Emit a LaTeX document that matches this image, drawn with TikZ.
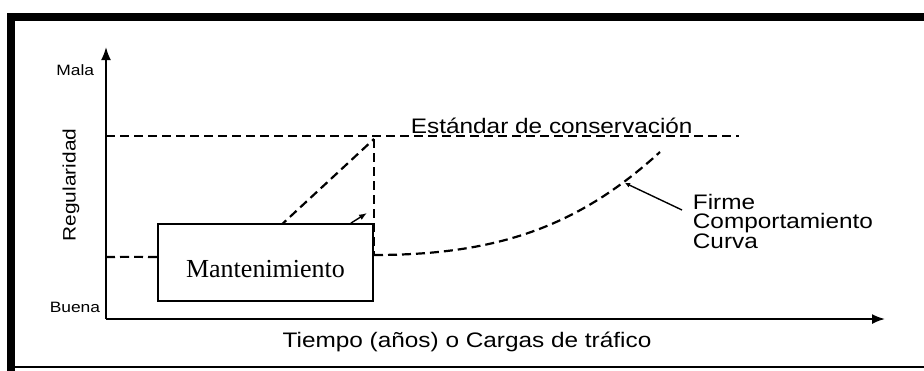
\documentclass[tikz,border=0pt]{standalone}
\usepackage{fontspec}
\setmainfont{Liberation Serif}
\newfontfamily\chartfont[FakeStretch=1.16]{Liberation Sans}
\usetikzlibrary{arrows.meta,calc}

\begin{document}
\begin{tikzpicture}[x=1pt,y=-1pt,every path/.style={line width=1.8pt},
  curvedash/.style={line width=2.2pt,dash pattern=on 9pt off 5pt},
  biglabel/.style={font=\chartfont\fontsize{21pt}{19.5pt}\selectfont,inner sep=0pt},
  smalllabel/.style={font=\chartfont\fontsize{15pt}{17pt}\selectfont,inner sep=0pt}]

\useasboundingbox (0,0) rectangle (924,370);
\draw[line width=8pt] (11,372) -- (11,17) -- (930,17);
\draw[line width=1.6pt] (7,367) -- (924,367);

\coordinate (o) at (106,319);
\coordinate (ytop) at (106,47);
\coordinate (xend) at (885,319);
\coordinate (s0) at (106,136);
\coordinate (s1) at (739,136);
\coordinate (peak) at (374,139);
\coordinate (drop) at (374,255);
\coordinate (tip) at (367,213);
\coordinate (hit) at (625,183);
\coordinate (lead) at (682,210);

\draw[line width=1.8pt,-{Latex[length=13pt,width=10pt]}] (o) -- (ytop);
\draw[line width=1.8pt,-{Latex[length=13pt,width=10pt]}] (o) -- (xend);

\node (mala) [smalllabel,anchor=east] at (95,70) {Mala};
\node (buena) [smalllabel,anchor=east] at (101,307) {Buena};
\node (regularidad) [font=\chartfont\fontsize{18pt}{20pt}\selectfont,rotate=90] at (71,185) {Regularidad};
\node (tiempo) [biglabel,anchor=base] at (467,347) {Tiempo (años) o Cargas de tráfico};
\node (estandar) [biglabel,anchor=base west] at (410,133) {Estándar de conservación};
\node (firme) [biglabel,anchor=north west,align=left] at (692,193) {Firme\\Comportamiento\\Curva};

\draw[curvedash,line width=1.8pt] (s0) -- (s1);
\draw[curvedash] (106,257) .. controls (200,256) and (230,262) .. (265,240) -- (peak);
\draw[curvedash] (peak) -- (drop);
\draw[curvedash] (drop) .. controls (500,255) and (580,225) .. (660,152);

\node (mant) [draw,line width=1.6pt,fill=white,minimum width=215pt,minimum height=77pt,text height=29pt,text depth=0pt,
  font=\fontsize{26pt}{30pt}\selectfont] at (265.5,262.5) {Mantenimiento};

\draw[line width=1.4pt,-{Latex[length=8pt,width=6pt]}] ($(mant.north east)+(-23,0)$) -- (tip);
\draw[line width=1.4pt,-{Latex[length=5pt,width=5pt]}] (lead) -- (hit);

\end{tikzpicture}
\end{document}
